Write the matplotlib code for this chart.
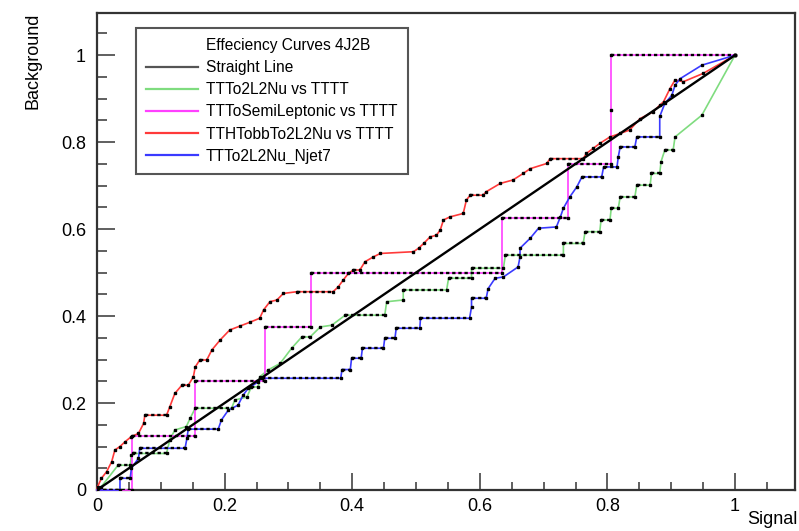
import numpy as np
import matplotlib
matplotlib.use("Agg")
import matplotlib.pyplot as plt
from matplotlib.lines import Line2D
from matplotlib.ticker import MultipleLocator, FormatStrFormatter

plt.rcParams['font.family'] = ['Liberation Sans', 'DejaVu Sans']

# efficiency curves: (signal, background)
straight_pts = [(0.0, 0.0), (1.0, 1.0)]

green_pts = [(0.0, 0.0), (0.007, 0.008), (0.033, 0.057), (0.052, 0.057), (0.054, 0.08),
             (0.056, 0.084), (0.109, 0.084), (0.114, 0.115), (0.122, 0.138), (0.14, 0.146),
             (0.146, 0.165), (0.154, 0.188), (0.211, 0.188), (0.216, 0.207), (0.235, 0.214),
             (0.242, 0.237), (0.253, 0.237), (0.255, 0.26), (0.268, 0.276), (0.287, 0.291),
             (0.305, 0.326), (0.321, 0.352), (0.334, 0.352), (0.35, 0.375), (0.368, 0.379),
             (0.389, 0.402), (0.451, 0.402), (0.454, 0.433), (0.48, 0.437), (0.48, 0.46),
             (0.548, 0.46), (0.551, 0.487), (0.587, 0.487), (0.587, 0.51), (0.637, 0.51),
             (0.64, 0.54), (0.731, 0.54), (0.731, 0.567), (0.762, 0.567), (0.765, 0.594),
             (0.788, 0.594), (0.79, 0.621), (0.804, 0.621), (0.806, 0.648), (0.817, 0.648),
             (0.82, 0.674), (0.843, 0.674), (0.846, 0.701), (0.867, 0.701), (0.869, 0.728),
             (0.882, 0.728), (0.884, 0.755), (0.89, 0.782), (0.903, 0.782), (0.906, 0.812),
             (0.948, 0.862), (1.0, 1.0)]

magenta_pts = [(0.0, 0.0), (0.055, 0.0), (0.055, 0.125), (0.154, 0.125), (0.154, 0.25),
               (0.263, 0.25), (0.263, 0.375), (0.335, 0.375), (0.335, 0.5), (0.635, 0.5),
               (0.635, 0.625), (0.738, 0.625), (0.738, 0.75), (0.806, 0.75), (0.806, 0.875),
               (0.806, 1.0), (1.0, 1.0)]

red_pts = [(0.0, 0.0), (0.001, 0.008), (0.007, 0.027), (0.015, 0.042), (0.023, 0.065),
           (0.028, 0.092), (0.036, 0.1), (0.044, 0.111), (0.054, 0.123), (0.065, 0.13),
           (0.073, 0.153), (0.075, 0.172), (0.109, 0.172), (0.114, 0.191), (0.122, 0.222),
           (0.133, 0.241), (0.143, 0.241), (0.151, 0.26), (0.154, 0.283), (0.161, 0.299),
           (0.172, 0.299), (0.18, 0.322), (0.193, 0.345), (0.208, 0.368), (0.224, 0.377),
           (0.24, 0.386), (0.255, 0.395), (0.261, 0.414), (0.271, 0.433), (0.282, 0.437),
           (0.292, 0.452), (0.313, 0.456), (0.37, 0.456), (0.378, 0.467), (0.386, 0.483),
           (0.394, 0.498), (0.402, 0.506), (0.412, 0.506), (0.42, 0.525), (0.433, 0.536),
           (0.444, 0.544), (0.496, 0.548), (0.504, 0.556), (0.512, 0.567), (0.522, 0.582),
           (0.532, 0.586), (0.538, 0.598), (0.543, 0.621), (0.553, 0.628), (0.574, 0.636),
           (0.579, 0.667), (0.585, 0.678), (0.605, 0.678), (0.61, 0.686), (0.632, 0.705),
           (0.652, 0.713), (0.668, 0.728), (0.679, 0.739), (0.705, 0.751), (0.71, 0.762),
           (0.762, 0.762), (0.767, 0.774), (0.778, 0.786), (0.788, 0.797), (0.804, 0.812),
           (0.82, 0.82), (0.835, 0.828), (0.851, 0.854), (0.872, 0.87), (0.882, 0.885),
           (0.888, 0.893), (0.898, 0.923), (0.906, 0.943), (0.919, 0.939), (0.95, 0.958),
           (1.0, 1.0)]

blue_pts = [(0.0, 0.0), (0.036, 0.0), (0.036, 0.027), (0.052, 0.027), (0.054, 0.05),
            (0.065, 0.073), (0.067, 0.096), (0.138, 0.096), (0.141, 0.119), (0.143, 0.14),
            (0.19, 0.14), (0.195, 0.161), (0.206, 0.184), (0.221, 0.195), (0.229, 0.218),
            (0.237, 0.234), (0.253, 0.249), (0.258, 0.257), (0.382, 0.257), (0.384, 0.277),
            (0.397, 0.277), (0.399, 0.303), (0.414, 0.303), (0.416, 0.326), (0.449, 0.326),
            (0.451, 0.349), (0.467, 0.349), (0.469, 0.372), (0.506, 0.372), (0.507, 0.395),
            (0.584, 0.395), (0.587, 0.421), (0.587, 0.441), (0.61, 0.441), (0.613, 0.463),
            (0.624, 0.487), (0.637, 0.49), (0.66, 0.513), (0.663, 0.536), (0.663, 0.556),
            (0.679, 0.579), (0.692, 0.602), (0.72, 0.605), (0.726, 0.627), (0.731, 0.648),
            (0.741, 0.674), (0.752, 0.697), (0.76, 0.72), (0.791, 0.72), (0.794, 0.743),
            (0.815, 0.743), (0.817, 0.766), (0.82, 0.789), (0.843, 0.789), (0.846, 0.812),
            (0.882, 0.812), (0.882, 0.859), (0.89, 0.889), (0.901, 0.908), (0.906, 0.931),
            (0.914, 0.946), (0.948, 0.977), (1.0, 1.0)]

legend_title = "Effeciency Curves 4J2B"
labels = ["Straight Line", "TTTo2L2Nu vs TTTT", "TTToSemiLeptonic vs TTTT",
          "TTHTobbTo2L2Nu vs TTTT", "TTTo2L2Nu_Njet7"]
colors = ["#555555", "#7fdc7f", "#ff40ff", "#ff3a3a", "#3a3aff"]


def draw_curve(ax, pts, color):
    x, y = np.array(pts).T
    ax.plot(x, y, color=color, lw=1.2, zorder=3, clip_on=False)
    # ROOT draws the points as tiny black markers, dense on the flat parts
    for i in range(len(x) - 1):
        if y[i] == y[i + 1]:
            ax.plot(x[i:i + 2], y[i:i + 2], color="k", lw=1.7,
                    ls=(0, (1.4, 1.2)), zorder=4)
    ax.plot(x, y, ls="none", marker="s", ms=1.6, color="k", zorder=5)


fig = plt.figure(figsize=(7.99, 5.31), dpi=100)
ax = fig.add_axes([97 / 799, 41 / 531, 698 / 799, 477 / 531])

sx, sy = np.array(straight_pts).T
ax.plot(sx, sy, color="k", lw=1.7, zorder=6)
for pts, c in zip([green_pts, magenta_pts, red_pts, blue_pts], colors[1:]):
    draw_curve(ax, pts, c)

ax.set_xlim(0, 1.094)
ax.set_ylim(0, 1.097)
for s in ax.spines.values():
    s.set_linewidth(1.6)
    s.set_color("#333333")

ax.xaxis.set_major_locator(MultipleLocator(0.2))
ax.xaxis.set_minor_locator(MultipleLocator(0.05))
ax.yaxis.set_major_locator(MultipleLocator(0.2))
ax.yaxis.set_minor_locator(MultipleLocator(0.05))
ax.xaxis.set_major_formatter(FormatStrFormatter("%g"))
ax.yaxis.set_major_formatter(FormatStrFormatter("%g"))
ax.tick_params(axis="both", which="both", direction="in", color="#444444",
               width=1.2, labelsize=13, top=False, right=False)
ax.tick_params(axis="x", which="major", length=12, pad=6)
ax.tick_params(axis="x", which="minor", length=6)
ax.tick_params(axis="y", which="major", length=13, pad=8)
ax.tick_params(axis="y", which="minor", length=7)

ax.text(-0.092, 1.0, "Background", transform=ax.transAxes, rotation=90,
        ha="center", va="top", fontsize=13)
ax.text(1.003, -0.045, "Signal", transform=ax.transAxes,
        ha="right", va="top", fontsize=13)

handles = [Line2D([], [], color="none")]
handles += [Line2D([], [], color=c, lw=1.6) for c in colors]
leg = ax.legend(handles, [legend_title] + labels, loc="upper left",
                bbox_to_anchor=(0.056, 0.969), borderaxespad=0, fontsize=11.2,
                frameon=True, fancybox=False, framealpha=1, edgecolor="#555555",
                handlelength=3.3, handletextpad=0.55, labelspacing=0.46,
                borderpad=0.65)
leg.get_frame().set_linewidth(1.5)

fig.savefig("out.png", dpi=100)
